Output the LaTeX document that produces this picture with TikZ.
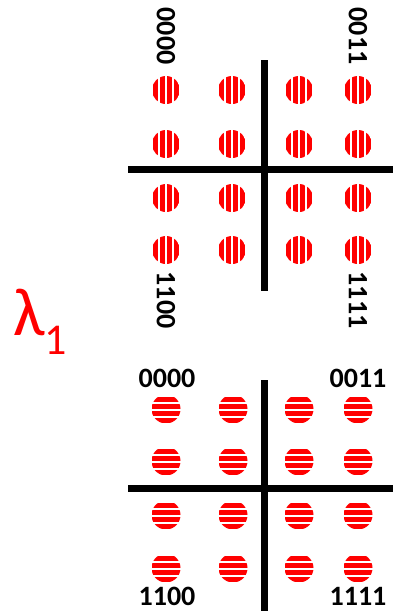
\documentclass[tikz,border=0pt]{standalone}
\usepackage{fontspec}
\setmainfont{Carlito}
\begin{document}
\begin{tikzpicture}[x=1pt,y=-1pt,
  axis/.style={line width=7pt,black},
  lab/.style={font=\fontsize{28}{28}\selectfont\bfseries,inner sep=0pt},
  vdot/.style={circle,minimum size=28pt,inner sep=0pt,
    path picture={\foreach \k in {0,...,3}{\fill[red] ([xshift=\k*7pt+0.5pt]path picture bounding box.south west) rectangle ++(5pt,30pt);}}},
  hdot/.style={circle,minimum width=29pt,minimum height=28pt,inner sep=0pt,
    path picture={\foreach \k in {0,...,3}{\fill[red] ([yshift=\k*7pt+0.5pt]path picture bounding box.south west) rectangle ++(30pt,5pt);}}}
]
\useasboundingbox (0,0) rectangle (393,611);
% top panel axes
\coordinate (tvt) at (264,60); \coordinate (tvb) at (264,291);
\coordinate (thl) at (128,169); \coordinate (thr) at (393,169);
\draw[axis] (tvt) -- (tvb);
\draw[axis] (thl) -- (thr);
% top dots
\foreach \c/\x in {1/166,2/232,3/299,4/358}{
  \foreach \r/\y in {1/90,2/144,3/198,4/250}{
    \node[vdot] (t\r\c) at (\x,\y) {};
  }
}
\node[lab,rotate=-90] (t0000) at (166,36) {0000};
\node[lab,rotate=-90] (t0011) at (358,36) {0011};
\node[lab,rotate=-90] (t1100) at (166,300) {1100};
\node[lab,rotate=-90] (t1111) at (358,300) {1111};
% lambda
\node[red,inner sep=0pt] (lam) at (40,322) {\fontsize{68}{68}\selectfont λ\raisebox{-0.28em}{\fontsize{44}{44}\selectfont 1}};
% bottom panel axes
\coordinate (bvt) at (264,380); \coordinate (bvb) at (264,611);
\coordinate (bhl) at (128,488); \coordinate (bhr) at (393,488);
\draw[axis] (bvt) -- (bvb);
\draw[axis] (bhl) -- (bhr);
\foreach \c/\x in {1/166,2/233,3/299,4/358}{
  \foreach \r/\y in {1/409,2/461,3/515,4/568}{
    \node[hdot] (b\r\c) at (\x,\y) {};
  }
}
\node[lab] (b0000) at (167,378) {0000};
\node[lab] (b0011) at (358,378) {0011};
\node[lab] (b1100) at (167,596) {1100};
\node[lab] (b1111) at (358,596) {1111};
\end{tikzpicture}
\end{document}
